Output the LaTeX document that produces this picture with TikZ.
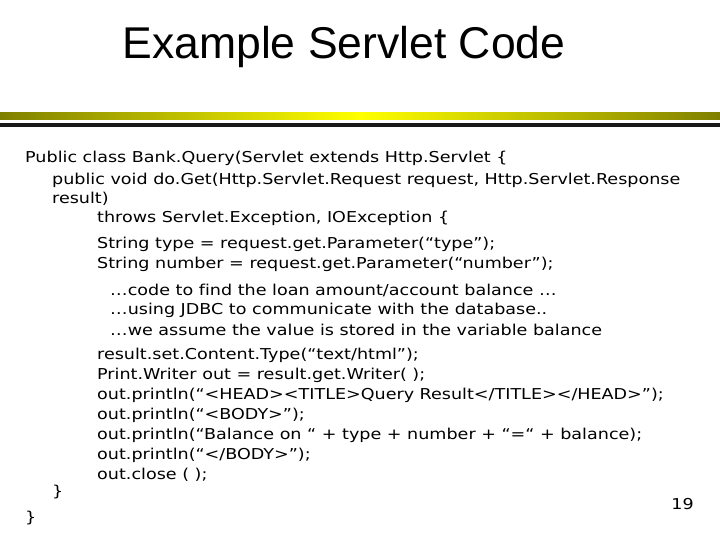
\documentclass[tikz,border=0pt]{standalone}
\usepackage{fontspec}
\setmainfont[FakeStretch=1.17, Ligatures=NoCommon]{DejaVu Sans}
\newfontfamily\titlefont{Liberation Sans}
\begin{document}
\begin{tikzpicture}[x=1pt, y=-1pt,
	code/.style={anchor=west, inner sep=0pt, font=\fontsize{15}{18}\selectfont}]
	\useasboundingbox (0,0) rectangle (720,540);
	\node[inner sep=0pt, font=\titlefont\fontsize{44.5}{50}\selectfont] (title) at (344,47) {Example Servlet Code};
	%bars
	\shade[left color=yellow!50!black, right color=yellow!50!black, middle color=yellow] (0,113) rectangle (720,120);
	\fill[black!90] (0,123) rectangle (720,127);
	\node[code] (l1)  at (25,158)  {Public class Bank.Query(Servlet extends Http.Servlet \{};
	\node[code] (l2)  at (52,180)  {public void do.Get(Http.Servlet.Request request, Http.Servlet.Response};
	\node[code] (l3)  at (52,199)  {result)};
	\node[code] (l4)  at (97,218)  {throws Servlet.Exception, IOException \{};
	\node[code] (l5)  at (97,244)  {String type = request.get.Parameter(“type”);};
	\node[code] (l6)  at (97,264)  {String number = request.get.Parameter(“number”);};
	\node[code] (l7)  at (110,290) {…code to f\kern0pt ind the loan amount/account balance …};
	\node[code] (l8)  at (110,310) {…using JDBC to communicate with the database..};
	\node[code] (l9)  at (110,330) {…we assume the value is stored in the variable balance};
	\node[code] (l10) at (97,355)  {result.set.Content.Type(“text/html”);};
	\node[code] (l11) at (97,375)  {Print.Writer out = result.get.Writer( );};
	\node[code] (l12) at (97,395)  {out.println(“<HEAD><TITLE>Query Result</TITLE></HEAD>”);};
	\node[code] (l13) at (97,415)  {out.println(“<BODY>”);};
	\node[code] (l14) at (97,435)  {out.println(“Balance on “ + type + number + “=“ + balance);};
	\node[code] (l15) at (97,455)  {out.println(“</BODY>”);};
	\node[code] (l16) at (97,475)  {out.close ( );};
	\node[code] (l17) at (52,492)  {\}};
	\node[code] (l18) at (25,518)  {\}};
	\node[code, anchor=east] (page) at (694,504) {19};
\end{tikzpicture}
\end{document}
